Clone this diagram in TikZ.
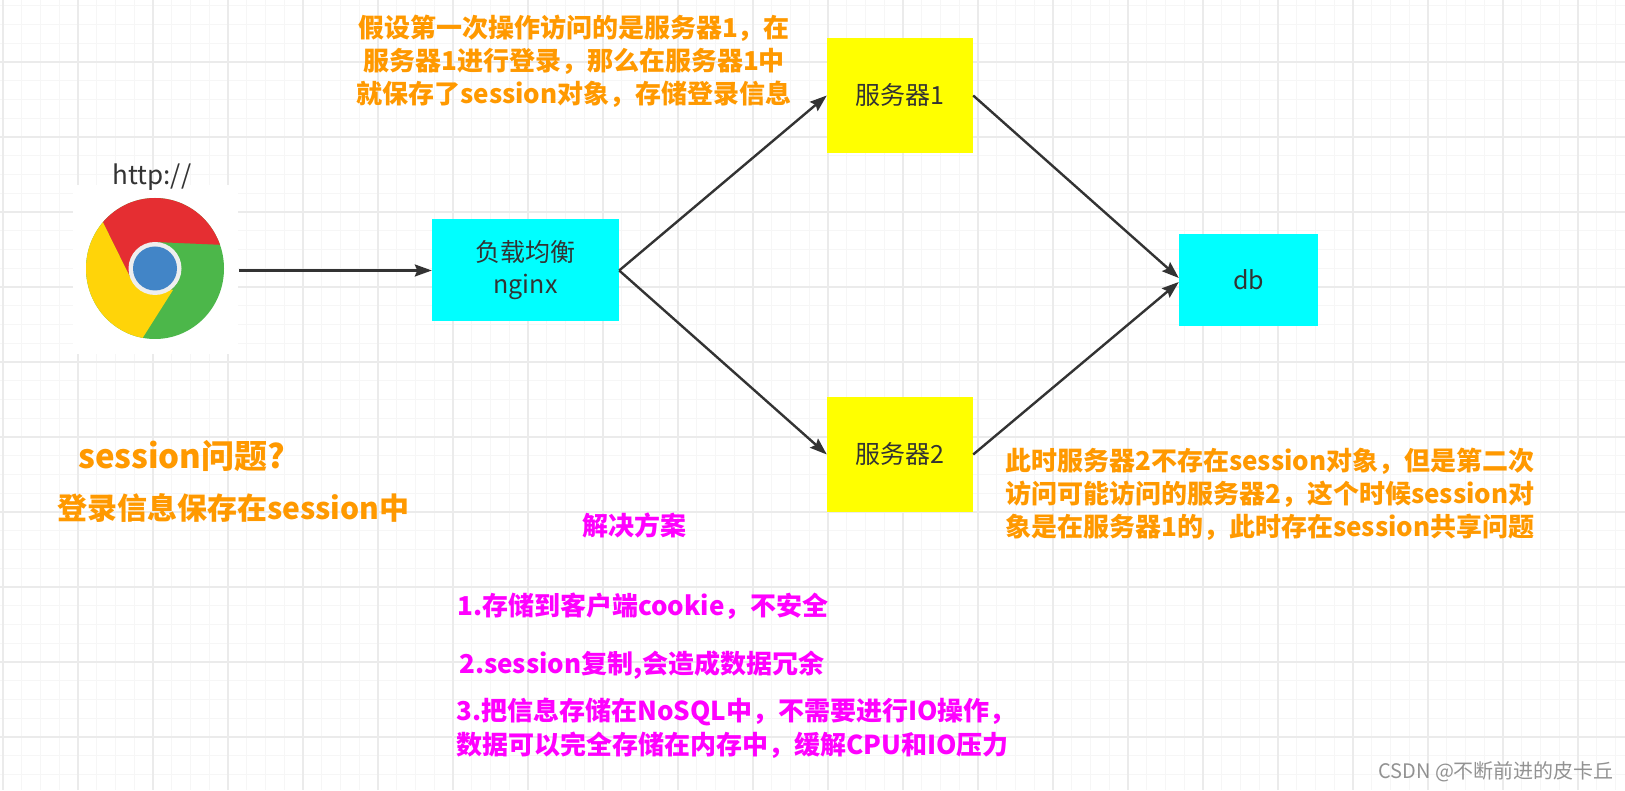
\documentclass[tikz,border=0pt]{standalone}
\usepackage{fontspec}
\setmainfont{Noto Sans CJK SC}
\usetikzlibrary{arrows.meta}
\definecolor{gridminor}{HTML}{F6F6F6}
\definecolor{gridmajor}{HTML}{EBEBEB}
\definecolor{inkdark}{HTML}{333333}
\definecolor{noteorange}{HTML}{FF9900}
\definecolor{notepink}{HTML}{FF00FF}
\definecolor{boxyellow}{RGB}{255,255,0}
\definecolor{boxcyan}{RGB}{0,255,255}
\definecolor{chromegreen}{RGB}{76,183,74}
\definecolor{chromered}{RGB}{229,46,50}
\definecolor{chromeyellow}{RGB}{255,212,9}
\definecolor{chromeblue}{RGB}{66,133,199}
\definecolor{chromering}{RGB}{238,238,238}
\tikzset{
	yellowbox/.style={fill=boxyellow,text=inkdark,minimum width=146pt,minimum height=115pt,font=\fontsize{25}{32}\selectfont,align=center,inner sep=0pt},
	cyanbox/.style={fill=boxcyan,text=inkdark,font=\fontsize{25}{32}\selectfont,align=center,inner sep=0pt},
	ordernote/.style={text=noteorange,font=\fontsize{26}{33}\selectfont\bfseries,inner sep=0pt},
	pinknote/.style={text=notepink,font=\fontsize{26}{34}\selectfont\bfseries,inner sep=0pt,anchor=west},
	flow/.style={draw=inkdark,line width=2.4pt,-{Stealth[length=17pt,width=12pt,inset=2.5pt]}}
}
\begin{document}
\begin{tikzpicture}[x=1pt,y=1pt,line join=round]
	\useasboundingbox (0,0) rectangle (1625,790);
	\fill[white] (0,0) rectangle (1625,790);
	% grid paper
	\foreach \i in {0,...,86} \draw[gridminor,line width=1.2pt] ({3+18.75*\i},0) -- ({3+18.75*\i},790);
	\foreach \i in {0,...,42} \draw[gridminor,line width=1.2pt] (0,{15.5+18.75*\i}) -- (1625,{15.5+18.75*\i});
	\foreach \i in {0,...,21} \draw[gridmajor,line width=1.2pt] ({3+75*\i},0) -- ({3+75*\i},790);
	\foreach \i in {0,...,10} \draw[gridmajor,line width=1.2pt] (0,{53+75*\i}) -- (1625,{53+75*\i});
	% browser
	\fill[white] (73,436) rectangle (238,605);
	\def \cx{155};
	\def \cy{521.5};
	\begin{scope}
		\clip (\cx,\cy) ellipse[x radius=69,y radius=70.5];
		\fill[chromegreen] (70,430) rectangle (240,610);
		\fill[chromered] (130,513) -- (155,548) -- (225,545) -- (225,600) -- (87,600) -- cycle;
		\fill[chromeyellow] (130,513) -- (87,600) -- (70,600) -- (70,440) -- (135,440) -- (173,500) -- cycle;
	\end{scope}
	\fill[chromering] (\cx,\cy) circle(26.5);
	\fill[chromeblue] (\cx,\cy) circle(22);
	\node[text=inkdark,font=\fontsize{26}{30}\selectfont,inner sep=0pt] (httplabel) at (152,613) {http://};
	\coordinate (browser) at (239,519.5);
	% boxes
	\node[cyanbox,minimum width=187pt,minimum height=102pt] (nginx) at (525.5,519.5) {负载均衡\\nginx};
	\node[yellowbox] (server1) at (900,694.5) {服务器1};
	\node[yellowbox] (server2) at (900,335.5) {服务器2};
	\node[cyanbox,minimum width=139pt,minimum height=92pt] (db) at (1248.5,510) {db};
	% connectors
	\draw[flow] (browser) -- (nginx.west);
	\draw[flow] (nginx.east) -- (server1.west);
	\draw[flow] (nginx.east) -- (server2.west);
	\draw[flow] (server1.east) -- ([yshift=2pt]db.west);
	\draw[flow] (server2.east) -- ([yshift=-2pt]db.west);
	% notes
	\node[ordernote,align=center] (firstnote) at (574,729) {假设第一次操作访问的是服务器1，在\\服务器1进行登录，那么在服务器1中\\就保存了session对象，存储登录信息};
	\node[ordernote,align=left,anchor=west] (secondnote) at (1005,296) {此时服务器2不存在session对象，但是第二次\\访问可能访问的服务器2，这个时候session对\\象是在服务器1的，此时存在session共享问题};
	\node[ordernote,anchor=west,font=\fontsize{33}{38}\selectfont\bfseries] (question) at (78,334) {session问题?};
	\node[ordernote,anchor=west,font=\fontsize{30}{36}\selectfont\bfseries] (loginnote) at (57,282) {登录信息保存在session中};
	\node[pinknote,anchor=center] (solution) at (634,265) {解决方案};
	\node[pinknote] (way1) at (457,184) {1.存储到客户端cookie，不安全};
	\node[pinknote] (way2) at (459,125) {2.session复制,会造成数据冗余};
	\node[pinknote,align=left] (way3) at (456,62) {3.把信息存储在NoSQL中，不需要进行IO操作，\\数据可以完全存储在内存中，缓解CPU和IO压力};
	\node[text=gray,font=\fontsize{20}{24}\selectfont,inner sep=0pt,anchor=west,opacity=0.85] (mark) at (1378,18) {CSDN @不断前进的皮卡丘};
\end{tikzpicture}
\end{document}
